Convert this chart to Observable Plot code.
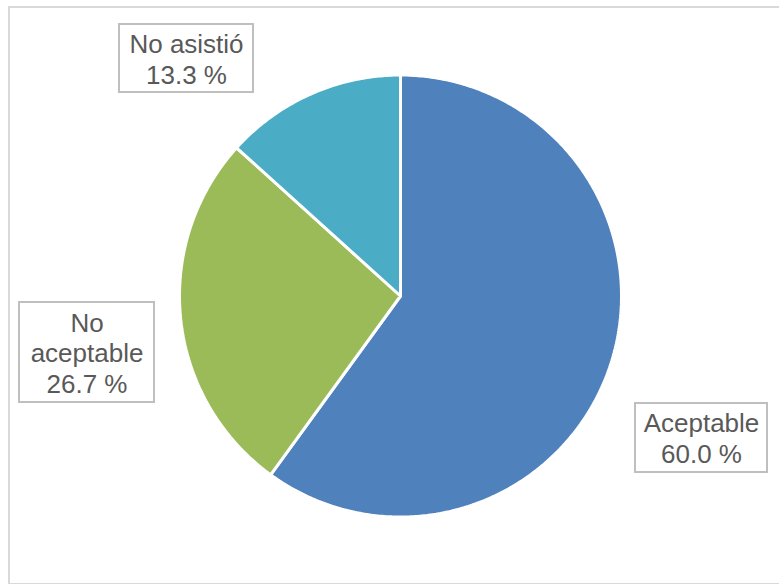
<!DOCTYPE html>
<html>
<head>
<meta charset="utf-8">
<script src="https://cdn.jsdelivr.net/npm/d3@7"></script>
<script src="https://cdn.jsdelivr.net/npm/@observablehq/plot@0.6"></script>
<style>
  html, body { margin: 0; padding: 0; background: #fff; }
  #wrap { position: relative; width: 779px; height: 584px; overflow: hidden; }
  #frame { position: absolute; left: 8px; top: 6px; width: 820px; height: 579px; border: 2px solid #d9d9d9; box-sizing: border-box; pointer-events: none; }
  #chart { position: absolute; left: 0; top: 0; }
</style>
</head>
<body>
<div id="wrap"><div id="chart"></div><div id="frame"></div></div>
<script>
// ---- data ----
const categories = ["Aceptable", "No aceptable", "No asistió"];
const values = [60.0, 26.7, 13.3];
const colors = ["#4f81bd", "#9bbb59", "#4bacc6"];

// ---- layout (pixels) ----
const W = 779, H = 584;
const cx = 400, cy = 295.5, R = 221;
const px2x = p => (p - cx) / R;
const py2y = p => (cy - p) / R;
// label boxes: [left, top, right, bottom] in pixels
const labelBoxes = [
  [635, 403, 767, 472],
  [19, 302, 154, 402],
  [119, 24, 253, 92]
];

// slices via d3.pie (clockwise from top)
const pie = d3.pie().sort(null).value(d => d)(values);
const slicePts = [];
pie.forEach((s, i) => {
  const n = Math.max(2, Math.ceil((s.endAngle - s.startAngle) / 0.01));
  slicePts.push({cat: categories[i], x: 0, y: 0});
  for (let k = 0; k <= n; k++) {
    const a = s.startAngle + (s.endAngle - s.startAngle) * k / n;
    slicePts.push({cat: categories[i], x: Math.sin(a), y: Math.cos(a)});
  }
});

const labels = categories.map((c, i) => {
  const b = labelBoxes[i];
  const name = c === "No aceptable" ? "No\naceptable" : c;
  return {
    cat: c,
    text: name + "\n" + values[i].toFixed(1) + " %",
    x1: px2x(b[0]), x2: px2x(b[2]), y1: py2y(b[1]), y2: py2y(b[3]),
    x: px2x((b[0] + b[2]) / 2), y: py2y((b[1] + b[3]) / 2)
  };
});

const chart = Plot.plot({
  width: W, height: H,
  margin: 0,
  style: { fontFamily: "'Liberation Sans', Arial, sans-serif", background: "transparent" },
  x: { domain: [px2x(0), px2x(W)], range: [0, W], axis: null },
  y: { domain: [py2y(0), py2y(H)], range: [0, H], axis: null },
  color: { domain: categories, range: colors },
  marks: [
    Plot.line(slicePts, {x: "x", y: "y", z: "cat", fill: "cat", stroke: "#fff", strokeWidth: 3, curve: "linear-closed", strokeLinejoin: "miter"}),
    Plot.rect(labels, {x1: "x1", x2: "x2", y1: "y1", y2: "y2", fill: "#fff", stroke: "#bfbfbf", strokeWidth: 2}),
    Plot.text(labels, {x: "x", y: "y", text: "text", fill: "#595959", fontSize: 26, lineHeight: 1.18, textAnchor: "middle"})
  ]
});
document.getElementById("chart").appendChild(chart);
</script>
</body>
</html>
